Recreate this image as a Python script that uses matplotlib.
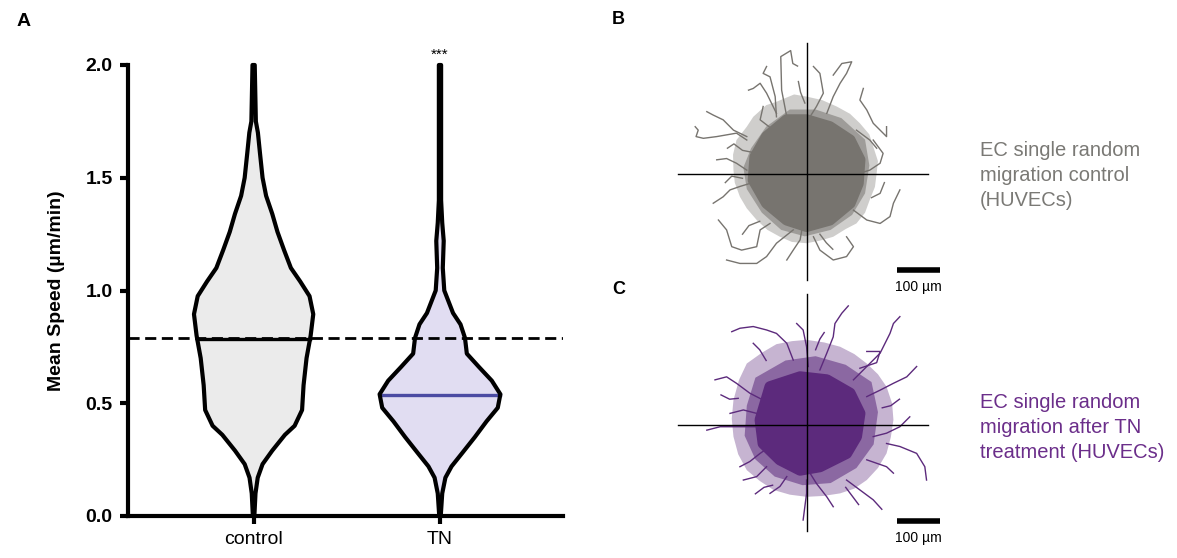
import matplotlib
matplotlib.use('Agg')
import matplotlib.pyplot as plt
import numpy as np

plt.rcParams['font.family'] = ['Liberation Sans', 'DejaVu Sans']

# ── Panel A: violin outlines (half-widths) ──────────────────────────
groups = ['control', 'TN']

ctrl_y  = [0.0, 0.10, 0.17, 0.23, 0.29, 0.36, 0.40, 0.47, 0.58, 0.70, 0.80, 0.895,
           0.975, 1.04, 1.10, 1.18, 1.26, 1.34, 1.42, 1.50, 1.61, 1.70, 1.75, 2.0]
ctrl_hw = [0.004, 0.010, 0.022, 0.048, 0.10, 0.168, 0.22, 0.26, 0.268, 0.284, 0.306, 0.32,
           0.30, 0.25, 0.20, 0.163, 0.128, 0.10, 0.067, 0.048, 0.034, 0.023, 0.012, 0.006]

tn_y  = [0.0, 0.10, 0.17, 0.22, 0.28, 0.35, 0.42, 0.48, 0.54, 0.60, 0.66, 0.72,
         0.79, 0.85, 0.90, 1.0, 1.10, 1.22, 1.30, 1.40, 2.0]
tn_hw = [0.004, 0.012, 0.029, 0.062, 0.12, 0.187, 0.25, 0.31, 0.324, 0.278, 0.21, 0.144,
         0.134, 0.11, 0.07, 0.023, 0.015, 0.02, 0.012, 0.006, 0.006]

medians  = [0.785, 0.537]
ref_line = 0.789          # control mean, dashed reference

# ── Panels B / C: migration tracks in µm ────────────────────────────
b_core = [(-94, 87), (-47, 126), (-1, 126), (53, 110), (100, 79), (123, 33), (119, -22),
          (100, -68), (53, -107), (-1, -122), (-47, -107), (-94, -68), (-125, -14), (-121, 40)]
b_mid = [(-130, 60), (-95, 110), (-40, 150), (20, 150), (80, 130), (135, 80), (145, 20),
         (135, -45), (105, -95), (55, -130), (-5, -145), (-60, -130), (-105, -90),
         (-140, -35), (-148, 15)]
b_halo = [(-164, 79), (-140, 110), (-125, 133), (-95, 160), (-71, 168), (-30, 185), (-1, 180),
          (35, 172), (69, 157), (100, 140), (123, 118), (145, 92), (154, 64), (165, 30),
          (162, 2), (158, -30), (146, -60), (135, -90), (115, -115), (90, -128), (61, -146),
          (30, -155), (-1, -161), (-35, -158), (-63, -146), (-92, -130), (-117, -107),
          (-140, -80), (-156, -53), (-168, -20), (-171, 9), (-172, 45)]
b_tracks = [
    [(-47, 133), (-59, 195), (-61, 273), (-38, 287), (-33, 257), (-22, 251)],
    [(-94, 250), (-102, 234), (-86, 226), (-74, 180), (-71, 133)],
    [(-136, 195), (-125, 199), (-109, 211), (-94, 188), (-71, 141)],
    [(-233, 145), (-218, 137), (-195, 126), (-171, 102), (-140, 87)],
    [(-260, 110), (-253, 102), (-258, 87), (-241, 83), (-210, 87), (-164, 95), (-140, 79)],
    [(-210, 33), (-187, 36), (-164, 25), (-140, 9)],
    [(-218, -68), (-195, -53), (-179, -37), (-156, -29), (-133, -22)],
    [(-206, -107), (-187, -130), (-175, -169), (-152, -177), (-117, -169), (-109, -130), (-86, -115)],
    [(-187, -200), (-156, -208), (-117, -208), (-94, -192), (-71, -161), (-32, -130)],
    [(-47, -200), (-32, -177), (-16, -153), (-12, -130), (-9, -107)],
    [(15, 250), (30, 234), (38, 188), (22, 157), (7, 133)],
    [(61, 230), (81, 257), (104, 261), (92, 234), (77, 211), (61, 180), (46, 141)],
    [(131, 199), (123, 172), (139, 149), (154, 118), (185, 87), (185, 110)],
    [(154, 79), (177, 48), (170, 25), (146, 9), (123, 2)],
    [(216, -37), (201, -68), (193, -99), (170, -115), (139, -107), (108, -84)],
    [(92, -146), (108, -169), (92, -192), (61, -200), (30, -177), (15, -146)],
    [(-102, 157), (-109, 126), (-78, 102)],
    [(115, 102), (146, 79), (162, 60)],
    [(-185, 60), (-170, 70), (-150, 55), (-125, 50)],
    [(-190, -20), (-175, -5), (-150, -10)],
    [(-150, -140), (-135, -120), (-110, -110)],
    [(60, -175), (45, -160), (30, -140)],
    [(180, -20), (170, -45), (150, -55)],
    [(-20, 215), (-15, 190), (-5, 165)],
]

c_core = [(-86, 89), (-16, 112), (46, 105), (100, 74), (123, 27), (115, -27), (92, -66),
          (30, -97), (-16, -105), (-63, -81), (-102, -43), (-109, 12)]
c_mid = [(-120, 110), (-50, 150), (20, 160), (90, 140), (150, 100), (165, 30), (155, -45),
         (115, -100), (55, -135), (-10, -140), (-75, -120), (-120, -80), (-145, -25),
         (-140, 45)]
c_halo = [(-140, 143), (-105, 168), (-71, 188), (-35, 195), (-1, 198), (40, 192), (77, 182),
          (110, 165), (139, 143), (165, 118), (185, 89), (198, 50), (201, 12), (195, -28),
          (185, -66), (165, -100), (139, -128), (110, -148), (77, -159), (38, -165),
          (-1, -167), (-40, -162), (-78, -151), (-110, -130), (-140, -105), (-160, -68),
          (-171, -27), (-175, 15), (-171, 58), (-158, 105)]
c_tracks = [
    [(-175, 217), (-156, 225), (-125, 229), (-94, 221), (-71, 213), (-47, 190), (-32, 151)],
    [(-24, 236), (-9, 221), (-1, 182), (3, 136)],
    [(96, 277), (81, 260), (65, 236), (61, 205), (46, 167), (30, 128)],
    [(216, 252), (201, 236), (193, 213), (170, 167), (139, 136), (108, 105)],
    [(139, 171), (170, 171), (162, 145), (123, 132)],
    [(255, 136), (232, 112), (201, 97), (170, 81), (139, 66)],
    [(239, 19), (216, -4), (185, -19), (154, -27)],
    [(278, -128), (274, -97), (255, -66), (216, -50), (185, -43)],
    [(201, -112), (185, -97), (162, -89), (139, -81)],
    [(174, -196), (154, -174), (123, -151), (92, -128)],
    [(61, -190), (46, -167), (22, -136), (7, -112)],
    [(-9, -221), (-5, -190), (-1, -159), (-1, -128)],
    [(-86, -159), (-63, -143), (-47, -120)],
    [(-156, -97), (-133, -85), (-109, -66), (-86, -50)],
    [(-233, -12), (-202, -4), (-171, -4), (-133, -4), (-102, -4)],
    [(-214, 105), (-187, 112), (-164, 97), (-133, 74), (-102, 58)],
    [(-179, 27), (-148, 35), (-117, 27)],
    [(-148, -128), (-117, -120), (-94, -97)],
    [(-125, 190), (-110, 175), (-95, 150)],
    [(215, 60), (195, 45), (175, 40)],
    [(120, -185), (105, -165), (90, -145)],
    [(-200, 70), (-180, 60), (-160, 62)],
    [(-120, -160), (-100, -145), (-80, -140)],
    [(40, 215), (30, 200), (20, 175)],
]

GRAY   = '#77746f'
PURPLE = '#5c2a7c'
W, H = 1177, 558

fig = plt.figure(figsize=(W / 100, H / 100), dpi=100, facecolor='white')

# ── Panel A ────────────────────────────────────────────────────────
ax = fig.add_axes([128 / W, 1 - 516 / H, (563 - 128) / W, (516 - 65) / H])
ax.set_xlim(-0.674, 1.66)
ax.set_ylim(0, 2.0)

fills = ['#ebebeb', '#e1ddf2']
med_colors = ['black', '#4b4ba3']
for i, (ys, hw) in enumerate([(ctrl_y, ctrl_hw), (tn_y, tn_hw)]):
    ys = np.array(ys)
    hw = np.array(hw)
    ax.fill_betweenx(ys, i - hw, i + hw, color=fills[i], lw=0, zorder=1)
    xo = np.concatenate([i - hw, (i + hw)[::-1], [i - hw[0]]])
    yo = np.concatenate([ys, ys[::-1], [ys[0]]])
    ax.plot(xo, yo, color='black', lw=3, solid_joinstyle='round',
            solid_capstyle='round', clip_on=False, zorder=4)
    m = medians[i]
    w = np.interp(m, ys, hw)
    ax.plot([i - w, i + w], [m, m], color=med_colors[i], lw=2.4, zorder=3)

ax.axhline(ref_line, color='black', lw=2, ls=(0, (4, 2)), zorder=5)
ax.text(1, 2.015, '***', ha='center', va='bottom', fontsize=11)

for s in ['top', 'right']:
    ax.spines[s].set_visible(False)
for s in ['left', 'bottom']:
    ax.spines[s].set_linewidth(3)
ax.set_yticks([0.0, 0.5, 1.0, 1.5, 2.0])
ax.set_yticklabels(['0.0', '0.5', '1.0', '1.5', '2.0'], fontweight='bold', fontsize=14)
ax.set_xticks([0, 1])
ax.set_xticklabels(groups, fontsize=14)
ax.tick_params(axis='both', length=6, width=3, pad=5)
ax.tick_params(axis='x', pad=5)
ax.set_ylabel('Mean Speed (µm/min)', fontweight='bold', fontsize=14)
ax.yaxis.set_label_coords(-0.145, 0.5)

# ── Panels B / C ───────────────────────────────────────────────────
def track_panel(rect_px, cy, core, mid, halo, tracks, color):
    left, right, top, bottom = rect_px
    cx = 807
    k = 100 / 43.0  # µm per pixel
    a = fig.add_axes([left / W, 1 - bottom / H, (right - left) / W, (bottom - top) / H])
    a.set_xlim((left - cx) * k, (right - cx) * k)
    a.set_ylim((cy - bottom) * k, (cy - top) * k)
    a.axis('off')
    hx, hy = zip(*halo)
    a.fill(hx, hy, color=color, alpha=0.35, lw=0, zorder=1)
    mx, my = zip(*mid)
    a.fill(mx, my, color=color, alpha=0.55, lw=0, zorder=1)
    cx_, cy_ = zip(*core)
    a.fill(cx_, cy_, color=color, lw=8, ec=color, joinstyle='round', zorder=2)
    for t in tracks:
        tx, ty = zip(*t)
        a.plot(tx, ty, color=color, lw=1.0, zorder=3)
    a.plot([-300, 281], [0, 0], color='black', lw=1, zorder=5)
    a.plot([0, 0], [-247, 305], color='black', lw=1, zorder=5)
    a.plot([209, 309], [-224, -224], color='black', lw=4, solid_capstyle='butt',
           clip_on=False, zorder=5)
    a.text(259, -246, '100 µm', ha='center', va='top', fontsize=10, clip_on=False)
    return a

track_panel((660, 960, 30, 300), 174, b_core, b_mid, b_halo, b_tracks, GRAY)
track_panel((660, 960, 285, 555), 425, c_core, c_mid, c_halo, c_tracks, PURPLE)

# ── Labels ─────────────────────────────────────────────────────────
fig.text(17 / W, 1 - 22 / H, 'A', fontsize=14, fontweight='bold', va='center')
fig.text(612 / W, 1 - 20 / H, 'B', fontsize=13, fontweight='bold', va='center')
fig.text(612 / W, 1 - 290 / H, 'C', fontsize=13, fontweight='bold', va='center')

fig.text(980 / W, 1 - 141 / H, 'EC single random\nmigration control\n(HUVECs)',
         fontsize=14.5, color='#7a7975', va='top', ha='left', linespacing=1.4)
fig.text(980 / W, 1 - 393 / H, 'EC single random\nmigration after TN\ntreatment (HUVECs)',
         fontsize=14.5, color='#6b2e8a', va='top', ha='left', linespacing=1.4)

fig.savefig('out.png', dpi=100, facecolor='white')
